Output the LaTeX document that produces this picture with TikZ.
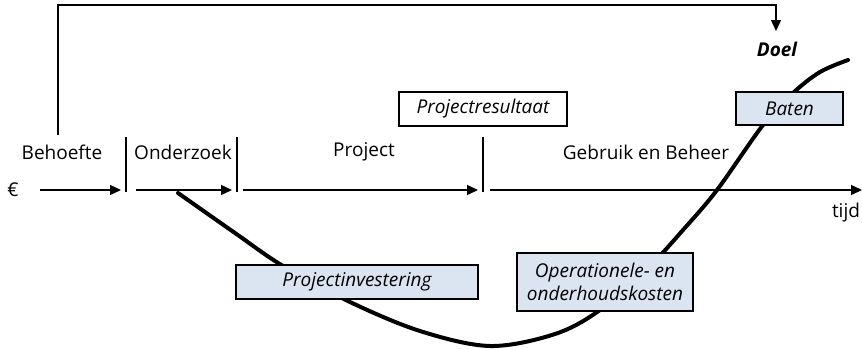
\documentclass[tikz,border=0pt]{standalone}
\usepackage{fontspec}
\setmainfont{Open Sans}
\usetikzlibrary{arrows.meta}
\definecolor{boxblue}{HTML}{DBE5F1}
\tikzset{
  lbl/.style={inner sep=0pt, font=\fontsize{19}{23}\selectfont},
  tag/.style={draw=black, line width=1.3pt, inner sep=0pt, font=\fontsize{19}{23}\selectfont\itshape, align=center},
  bluetag/.style={tag, fill=boxblue},
  axisarrow/.style={line width=1.4pt, -{Triangle[length=11pt,width=10pt]}},
  divider/.style={line width=1.4pt},
  flow/.style={line width=4pt, line cap=round}
}
\begin{document}
\begin{tikzpicture}[x=1pt, y=-1pt]
\useasboundingbox (0,0) rectangle (862,349);

% cost / benefit curve over time
\draw[flow] plot[smooth, tension=0.55] coordinates {
  (178,193) (235,233) (283,266) (350,302) (420,331) (490,346)
  (555,334) (600,310) (648,268) (683,230) (717,190) (763,125)
  (793,93) (820,72) (848,60)};

% time axis with phase dividers
\coordinate (a0) at (40,190);
\coordinate (a1) at (121,190);
\coordinate (b0) at (136,190);
\coordinate (b1) at (232,190);
\coordinate (c0) at (243,190);
\coordinate (c1) at (478,190);
\coordinate (d0) at (490,190);
\coordinate (d1) at (862,190);
\draw[axisarrow] (a0) -- (a1);
\draw[axisarrow] (b0) -- (b1);
\draw[axisarrow] (c0) -- (c1);
\draw[axisarrow] (d0) -- (d1);

\coordinate (s1t) at (126,137); \coordinate (s1b) at (126,192);
\coordinate (s2t) at (237,137); \coordinate (s2b) at (237,192);
\coordinate (s3t) at (483,137); \coordinate (s3b) at (483,192);
\draw[divider] (s1t) -- (s1b);
\draw[divider] (s2t) -- (s2b);
\draw[divider] (s3t) -- (s3b);

% phase labels
\node[lbl] (euro) at (13,190) {€};
\node[lbl] (need) at (62,152) {Behoefte};
\node[lbl] (research) at (183,152) {Onderzoek};
\node[lbl] (proj) at (364,152) {Project};
\node[lbl] (use) at (646,152) {Gebruik en Beheer};
\node[lbl] (time) at (846,213) {tijd};

% goal feedback line
\node[lbl, font=\fontsize{19}{23}\selectfont\bfseries\itshape] (goal) at (777,49) {Doel};
\coordinate (fb0) at (58,135);
\coordinate (fb1) at (58,5);
\coordinate (fb2) at (776,5);
\coordinate (fb3) at (776,31);
\draw[axisarrow] (fb0) -- (fb1) -- (fb2) -- (fb3);

% labelled boxes
\node[tag, fill=white, minimum width=168pt, minimum height=34pt] (result) at (483,109) {Projectresultaat};
\node[bluetag, minimum width=107pt, minimum height=33pt] (benefit) at (789.5,108.5) {Baten};
\node[bluetag, minimum width=242pt, minimum height=34pt] (invest) at (357,282) {Projectinvestering};
\node[bluetag, minimum width=176pt, minimum height=58pt] (opex) at (605,282) {Operationele- en\\onderhoudskosten};
\end{tikzpicture}
\end{document}
